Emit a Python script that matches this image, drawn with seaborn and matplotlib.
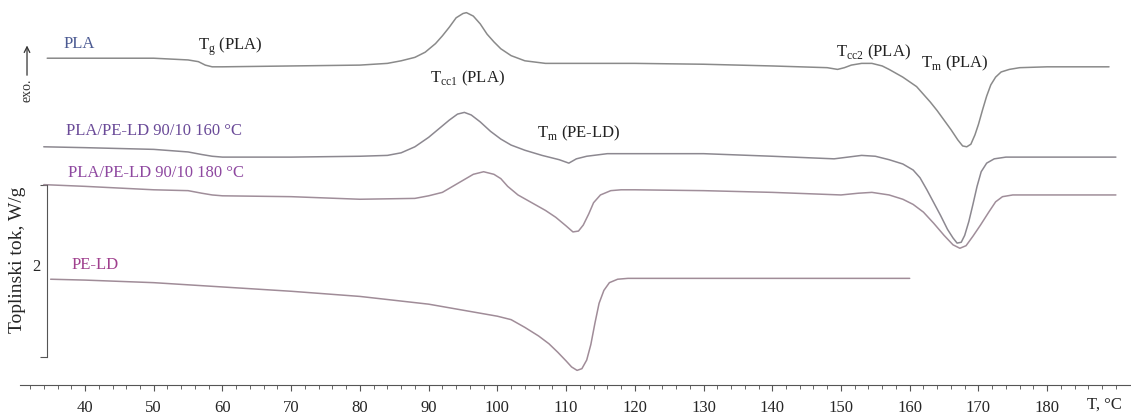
"""
DSC thermograms of PLA, PE-LD and PLA/PE-LD 90/10 blends (heating run).
"""
import matplotlib
matplotlib.use('Agg')
import matplotlib.pyplot as plt
import seaborn as sns
import pandas as pd

# temperatures (degC) and heat flow (W/g, curves shifted for display)
t_pla = [34.5, 40, 50, 55, 56.5, 57.5, 58.5, 60, 70, 80, 84, 86, 88, 89.5, 91, 92, 93, 94, 95,
         95.5, 96.5, 97.5, 98.5, 99.5, 100.5, 102, 104, 107, 110, 120, 130, 140, 148, 149.5,
         150.5, 151.5, 153, 154.5, 156, 157, 159, 161, 162, 163, 164, 165, 166, 167, 167.7,
         168.3, 168.9, 169.5, 170, 170.6, 171.2, 171.8, 172.5, 173.3, 174.5, 176, 180, 189]
hf_pla = [3.80, 3.80, 3.80, 3.78, 3.76, 3.72, 3.70, 3.70, 3.71, 3.72, 3.74, 3.77, 3.81, 3.87,
          3.97, 4.06, 4.16, 4.27, 4.32, 4.33, 4.29, 4.20, 4.08, 3.99, 3.91, 3.83, 3.77, 3.74,
          3.74, 3.74, 3.73, 3.71, 3.69, 3.67, 3.69, 3.72, 3.74, 3.74, 3.71, 3.67, 3.58, 3.47,
          3.38, 3.29, 3.19, 3.08, 2.97, 2.85, 2.78, 2.77, 2.80, 2.91, 3.03, 3.20, 3.36, 3.49,
          3.58, 3.64, 3.67, 3.69, 3.70, 3.70]

t_160 = [34, 40, 50, 55, 57, 58.5, 60, 70, 80, 84, 86, 88, 90, 91.5, 93, 94.2, 95.2, 96.2, 97.5,
         99, 100.5, 102, 104, 106.5, 109, 110.4, 111.5, 113, 116, 120, 130, 140, 149, 151, 153,
         155, 157, 159, 160.5, 161.5, 162.5, 163.5, 164.5, 165.5, 166.3, 166.9, 167.5, 168,
         168.6, 169.2, 169.8, 170.4, 171.2, 172.3, 174, 176, 190]
hf_160 = [2.77, 2.76, 2.74, 2.71, 2.68, 2.66, 2.65, 2.65, 2.66, 2.67, 2.70, 2.77, 2.88, 2.98,
          3.08, 3.15, 3.17, 3.14, 3.06, 2.95, 2.86, 2.79, 2.73, 2.67, 2.62, 2.58, 2.63, 2.66,
          2.69, 2.69, 2.69, 2.66, 2.63, 2.65, 2.67, 2.66, 2.62, 2.57, 2.50, 2.41, 2.27, 2.12,
          1.97, 1.81, 1.71, 1.65, 1.66, 1.74, 1.90, 2.10, 2.31, 2.48, 2.58, 2.63, 2.65, 2.65, 2.65]

t_180 = [34, 40, 50, 55, 57, 58.5, 60, 70, 80, 88, 90, 92, 93.5, 95, 96.5, 98, 99.5, 100.5,
         101.5, 103, 105, 107, 108.5, 110, 111, 111.8, 112.5, 113.3, 114, 115, 116.5, 118, 120,
         130, 140, 150, 152.5, 154.5, 157, 159, 160.5, 162, 163.5, 165, 166.3, 167.3, 168.2,
         169.2, 170.3, 171.5, 172.5, 173.5, 175, 180, 190]
hf_180 = [2.33, 2.31, 2.27, 2.26, 2.23, 2.21, 2.20, 2.19, 2.16, 2.17, 2.20, 2.24, 2.31, 2.38,
          2.45, 2.48, 2.45, 2.40, 2.31, 2.21, 2.12, 2.03, 1.95, 1.85, 1.78, 1.79, 1.86, 1.99,
          2.12, 2.21, 2.26, 2.27, 2.27, 2.26, 2.24, 2.21, 2.23, 2.24, 2.21, 2.16, 2.10, 2.01,
          1.88, 1.74, 1.63, 1.59, 1.62, 1.73, 1.86, 2.01, 2.13, 2.19, 2.21, 2.21, 2.21]

t_peld = [35, 40, 50, 60, 70, 80, 90, 95, 100, 102, 104, 106, 107.5, 108.8, 110, 110.8, 111.6,
          112.3, 113, 113.6, 114.2, 114.8, 115.5, 116.3, 117.5, 119, 130, 150, 160]
hf_peld = [1.23, 1.22, 1.19, 1.14, 1.09, 1.03, 0.94, 0.87, 0.80, 0.76, 0.67, 0.57, 0.48, 0.38,
           0.28, 0.21, 0.17, 0.19, 0.29, 0.47, 0.72, 0.95, 1.10, 1.19, 1.23, 1.24, 1.24, 1.24, 1.24]

series_names = ['PLA', 'PLA/PE-LD 90/10 160 °C', 'PLA/PE-LD 90/10 180 °C', 'PE-LD']
line_colors = ['#8a8a8a', '#8c8890', '#a08e9a', '#a08c98']
name_colors = ['#4b5a92', '#6a4a98', '#8e48a0', '#a0408e']
name_pos = [(36.8, 3.97), (37.2, 2.95), (37.5, 2.47), (38.1, 1.40)]

peak_labels = ['T$_\\mathregular{g}$ (PLA)', 'T$_\\mathregular{cc1}$ (PLA)', 'T$_\\mathregular{m}$ (PE-LD)',
               'T$_\\mathregular{cc2}$ (PLA)', 'T$_\\mathregular{m}$ (PLA)']
peak_pos = [(61.2, 3.93), (95.7, 3.57), (111.8, 2.93), (154.7, 3.87), (166.6, 3.74)]

x_ticks = list(range(40, 190, 10))

sns.set_style('white')
plt.rcParams['font.family'] = ['Liberation Serif', 'DejaVu Serif']
plt.rcParams['mathtext.fontset'] = 'custom'
plt.rcParams['mathtext.rm'] = 'Liberation Serif'

frames = []
for name, t, hf in zip(series_names, [t_pla, t_160, t_180, t_peld],
                       [hf_pla, hf_160, hf_180, hf_peld]):
    frames.append(pd.DataFrame({'T': t, 'hf': hf, 'sample': name}))
df = pd.concat(frames, ignore_index=True)

fig = plt.figure(figsize=(11.31, 4.16), dpi=100)
ax = fig.add_axes([20 / 1131, 31 / 416, 1 - 20 / 1131, 385 / 416])

sns.lineplot(data=df, x='T', y='hf', hue='sample', units='sample', estimator=None,
             palette=dict(zip(series_names, line_colors)), legend=False, linewidth=1.1, ax=ax)

ax.set_xlim(30.54, 192.2)
ax.set_ylim(0, 4.477)

for name, col, (x, y) in zip(series_names, name_colors, name_pos):
    ax.text(x, y, name, color=col, fontsize=12, ha='left', va='center')
for lab, (x, y) in zip(peak_labels, peak_pos):
    ax.text(x, y, lab, color='#222222', fontsize=12, ha='center', va='center')

# exo arrow
ax.annotate('', xy=(31.56, 3.98), xytext=(31.56, 3.57),
            arrowprops=dict(arrowstyle='->', color='#333333', lw=0.9))
ax.text(31.56, 3.43, 'exo.', rotation=90, fontsize=10, ha='center', va='center', color='#333333')

# axes styling
sns.despine(ax=ax, top=True, right=True)
ax.spines['bottom'].set_color('#555555')
ax.spines['left'].set_color('#555555')
ax.spines['left'].set_position(('data', 34.47))
ax.spines['left'].set_bounds(0.326, 2.326)

ax.set_xticks(x_ticks)
ax.set_xticks(range(32, 192, 2), minor=True)
ax.tick_params(axis='x', which='both', bottom=True)
ax.tick_params(axis='x', which='major', direction='out', length=4.5, width=0.8, color='#555555',
               labelsize=12, pad=6)
ax.tick_params(axis='x', which='minor', direction='out', length=3, width=0.7, color='#666666')
ax.text(188.4, -0.23, 'T, °C', fontsize=12, ha='center', va='center', clip_on=False)

ax.set_yticks([1.395])
ax.set_yticklabels(['2'])
ax.set_yticks([0.326, 2.326], minor=True)
ax.tick_params(axis='y', which='both', left=True)
ax.tick_params(axis='y', which='major', length=0, labelsize=12, pad=5)
ax.tick_params(axis='y', which='minor', direction='out', length=5, width=0.8, color='#555555')
ax.set_xlabel('')
ax.set_ylabel('')
fig.text(18 / 1131, 1 - 260 / 416, 'Toplinski tok, W/g', rotation=90, fontsize=14,
         ha='center', va='center')

fig.savefig('out.png', dpi=100)
